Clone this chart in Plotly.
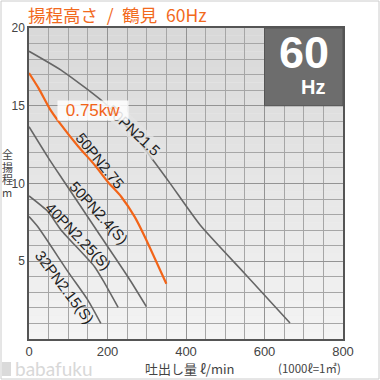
import plotly.graph_objects as go

# ---- data ----
x_21_5 = [0, 87, 198, 280, 354, 436, 550, 665]
y_21_5 = [18.5, 17.2, 15.05, 12.7, 10.2, 7.33, 4.2, 1.03]

x_2_75 = [0, 25, 53, 78, 125, 167, 201, 235, 269, 295, 350]
y_2_75 = [17.1, 16.1, 14.8, 13.9, 12.4, 11.2, 10.1, 9.15, 7.87, 6.58, 3.55]

x_2_4 = [0, 48, 82, 175, 252, 299]
y_2_4 = [13.65, 11.7, 10.4, 6.9, 4.0, 2.08]

x_2_25 = [0, 48, 82, 167, 193, 227]
y_2_25 = [9.2, 8.2, 7.0, 4.65, 3.58, 2.04]

x_2_15 = [0, 23, 100, 150, 183]
y_2_15 = [7.87, 7.2, 4.3, 2.5, 1.0]

x_ticks = [0, 200, 400, 600, 800]
y_ticks = [5, 10, 15, 20]

labels = ["50PN21.5", "50PN2.75", "50PN2.4(S)", "40PN2.25(S)", "32PN2.15(S)"]
label_x = [267, 181, 178, 127, 91.5]
label_y = [13.4, 11.5, 8.15, 6.6, 3.3]
label_angle = [43, 51, 48, 46, 53]

y_title_chars = ["全", "揚", "程", "m"]

title_text = "揚程高さ\u2002/\u2002鶴見\u200260Hz"
power_text = "0.75kw"

GRAY = "#666666"
ORANGE = "#f26418"

fig = go.Figure()

for xs, ys, col, w in [
    (x_21_5, y_21_5, GRAY, 1.6),
    (x_2_4, y_2_4, GRAY, 1.6),
    (x_2_25, y_2_25, GRAY, 1.6),
    (x_2_15, y_2_15, GRAY, 1.6),
    (x_2_75, y_2_75, ORANGE, 2.2),
]:
    fig.add_trace(go.Scatter(x=xs, y=ys, mode="lines",
                             line=dict(color=col, width=w, shape="spline", smoothing=0.6),
                             hoverinfo="skip", showlegend=False))

shapes = []
# background gradient strips
n = 40
for i in range(n):
    t = i / (n - 1)
    c = int(0xf4 - (0xf4 - 0xd9) * t)
    shapes.append(dict(type="rect", xref="x", yref="y", x0=0, x1=800,
                       y0=20 * i / n, y1=20 * (i + 1) / n,
                       fillcolor=f"rgb({c},{c},{c})", line=dict(width=0), layer="below"))
# 60Hz box
shapes.append(dict(type="rect", xref="x", yref="y", x0=600, x1=800, y0=15, y1=20,
                   fillcolor="#6d6d6d", line=dict(color="#555", width=1), layer="above"))
# outer frame
L, R, T, B = 29, 37, 28, 41
W = 380 - L - R
H = 380 - T - B
shapes.append(dict(type="rect", xref="paper", yref="paper",
                   x0=(-L + 1) / W, x1=(380 - L - 1) / W,
                   y0=(-B + 1) / H, y1=(380 - B - 1) / H,
                   line=dict(color="#cccccc", width=1), fillcolor="rgba(0,0,0,0)"))
# watermark icon
shapes.append(dict(type="rect", xref="paper", yref="paper",
                   x0=(2 - L) / W, x1=(11 - L) / W,
                   y0=(339 - 376) / H, y1=(339 - 362) / H,
                   line=dict(width=0), fillcolor="#dadada"))


def px(xp):
    return (xp - L) / W


def py(yp):
    return (339 - yp) / H


annotations = []
for i, (t, lx, ly, ang) in enumerate(zip(labels, label_x, label_y, label_angle)):
    annotations.append(dict(x=lx, y=ly, xref="x", yref="y", text=t, showarrow=False,
                            xanchor="center", yanchor="middle",
                            textangle=ang,
                            bgcolor="rgba(228,228,228,0.75)" if i == 0 else None,
                            borderpad=0,
                            font=dict(family="Liberation Sans", size=15, color="#1e1e1e")))
annotations.append(dict(x=163, y=14.68, xref="x", yref="y", text=power_text, showarrow=False,
                        xanchor="center", yanchor="middle",
                        font=dict(family="Liberation Sans", size=17, color=ORANGE),
                        bgcolor="rgba(255,255,255,0.85)", width=68, height=17))
annotations.append(dict(x=700, y=18.45, xref="x", yref="y", text="<b>60</b>", showarrow=False,
                        xanchor="center", yanchor="middle",
                        font=dict(family="Liberation Sans", size=45, color="white")))
annotations.append(dict(x=724, y=16.2, xref="x", yref="y", text="<b>Hz</b>", showarrow=False,
                        xanchor="center", yanchor="middle",
                        font=dict(family="Liberation Sans", size=20, color="white")))
annotations.append(dict(x=px(26), y=py(15), xref="paper", yref="paper",
                        text=title_text, showarrow=False, xanchor="left", yanchor="middle",
                        font=dict(family="Noto Sans CJK JP", size=17.5, color="#f26a1e")))
# stacked vertical y-axis title, one character per annotation
for k, ch in enumerate(y_title_chars):
    annotations.append(dict(x=px(7), y=py(154 + 12.5 * k), xref="paper", yref="paper",
                            text=ch, showarrow=False, xanchor="center", yanchor="middle",
                            borderpad=0,
                            font=dict(family="Noto Sans CJK JP", size=11, color="#444")))
annotations.append(dict(x=px(190), y=py(368), xref="paper", yref="paper",
                        text="吐出し量 ℓ/min", showarrow=False,
                        xanchor="center", yanchor="middle",
                        font=dict(family="Noto Sans CJK JP", size=13, color="#444")))
annotations.append(dict(x=px(309), y=py(368), xref="paper", yref="paper",
                        text="(1000ℓ=1㎥)", showarrow=False,
                        xanchor="center", yanchor="middle",
                        font=dict(family="Noto Sans CJK JP", size=11.5, color="#444")))
annotations.append(dict(x=px(14), y=py(368.5), xref="paper", yref="paper",
                        text="babafuku", showarrow=False, xanchor="left", yanchor="middle",
                        borderpad=0,
                        font=dict(family="Lato", size=19, color="#d8d8d8")))

fig.update_layout(
    width=380, height=380,
    margin=dict(l=L, r=R, t=T, b=B),
    paper_bgcolor="white", plot_bgcolor="#eeeeee",
    shapes=shapes, annotations=annotations,
    showlegend=False,
)
fig.update_xaxes(range=[0, 800], tickvals=x_ticks, ticks="", showgrid=True,
                 gridcolor="#939393", gridwidth=1,
                 minor=dict(dtick=50, showgrid=True, gridcolor="#a6a6a6", gridwidth=1),
                 showline=True, linecolor="#555", linewidth=1.5, mirror=True, zeroline=False,
                 tickfont=dict(family="Liberation Sans", size=13, color="#444"))
fig.update_yaxes(range=[0, 20], tickvals=y_ticks, ticks="", showgrid=True,
                 gridcolor="#939393", gridwidth=1,
                 minor=dict(dtick=1, showgrid=True, gridcolor="#a6a6a6", gridwidth=1),
                 showline=True, linecolor="#555", linewidth=1.5, mirror=True, zeroline=False,
                 tickfont=dict(family="Liberation Sans", size=12, color="#444"))

fig.write_html("out.html")
